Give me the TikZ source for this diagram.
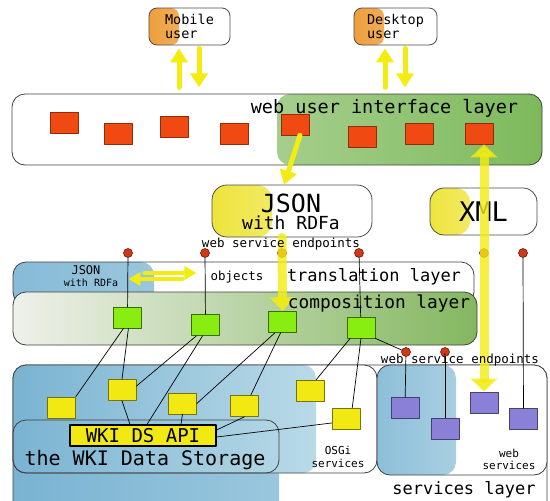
\documentclass[tikz,border=0pt]{standalone}
\usepackage{fontspec}
\newfontfamily\hand{DejaVu Sans Mono}
\usetikzlibrary{arrows.meta,calc}
\definecolor{sqred}{HTML}{F04A12}
\definecolor{sqgreen}{HTML}{88EE12}
\definecolor{sqyellow}{HTML}{F2E812}
\definecolor{sqpurple}{HTML}{8A80D8}
\definecolor{dotred}{HTML}{D03818}
\definecolor{arrowyellow}{HTML}{F2EC12}
\definecolor{usrorange}{HTML}{EE9E3C}
\definecolor{usrorangel}{HTML}{F7C886}
\definecolor{jsonyellow}{HTML}{EEE43C}
\definecolor{jsonyellowl}{HTML}{F8F2A6}
\definecolor{uigreenl}{HTML}{CDE4BD}
\definecolor{uigreen}{HTML}{7DB95B}
\definecolor{compgrey}{HTML}{EFF0EB}
\definecolor{compgreen}{HTML}{84B760}
\definecolor{blued}{HTML}{79B3D2}
\definecolor{bluel}{HTML}{C6E2EC}
\tikzset{
  fs/.style 2 args={font=\hand\fontsize{#1}{#2}\selectfont},
  sq/.style={line width=0.6pt, minimum width=28pt, minimum height=21pt, inner sep=0pt},
  redsq/.style={sq, draw=sqred!60!black, fill=sqred},
  greensq/.style={sq, draw=sqgreen!45!black, fill=sqgreen},
  yellowsq/.style={sq, draw=sqyellow!50!black, fill=sqyellow},
  purplesq/.style={sq, draw=sqpurple!50!black, fill=sqpurple},
  endpoint/.style={circle, draw=dotred!50!black, fill=dotred, line width=0.6pt, minimum size=9pt, inner sep=0pt},
  layer/.style={draw=black!75, line width=0.8pt, rounded corners=13pt, inner sep=0pt},
  userbox/.style={draw=black!70, fill=white, line width=0.8pt, rounded corners=8pt, inner sep=0pt},
  fillto/.style n args={3}{path picture={\shade[left color=#2, right color=#3] (path picture bounding box.south west) rectangle ([xshift=#1]path picture bounding box.north west);}},
  fillfrom/.style n args={3}{path picture={\shade[left color=#2, right color=#3] ([xshift=#1]path picture bounding box.south west) rectangle (path picture bounding box.north east);}},
  conn/.style={draw=black, line width=0.7pt},
  yarrow/.style={draw=arrowyellow, line width=5pt, -{Triangle[width=17pt,length=14pt]}},
  yarrowsm/.style={draw=arrowyellow, line width=4pt, -{Triangle[width=13pt,length=12pt]}},
  ylink/.style={draw=arrowyellow, opacity=0.8, line width=9pt, -{Triangle[width=25pt,length=14pt]}},
}
\begin{document}
\begin{tikzpicture}[x=1pt, y=-1pt, line join=round, line cap=round]
\useasboundingbox (0,0) rectangle (550,501);
\clip (0,0) rectangle (550,501);

% layers
\node[layer, minimum width=534pt, minimum height=155pt, fillto={266pt}{blued}{bluel!85!blued}] (svc) at (280,442.5) {};
\node[layer, fill=white, minimum width=364pt, minimum height=108pt, fillto={303pt}{blued}{bluel}] (osgi) at (195,419) {};
\node[layer, fill=white, minimum width=170pt, minimum height=110pt, fillto={79pt}{blued!85!white}{bluel}] (websvc) at (462,420) {};
\node[layer, minimum width=266pt, minimum height=53pt] (store) at (146,446.5) {};
\node[layer, fill=white, minimum width=530pt, minimum height=71pt, fillfrom={265pt}{uigreenl}{uigreen}] (ui) at (277,129.5) {};
\node[layer, fill=white, minimum width=461pt, minimum height=43pt, fillto={141pt}{blued!90!white}{bluel}] (trans) at (243.5,283.5) {};
\node[layer, minimum width=464pt, minimum height=53pt, left color=compgrey, right color=compgreen] (comp) at (245,318.5) {};

% users and formats
\node[userbox, minimum width=81pt, minimum height=37pt, fillto={30pt}{usrorange}{usrorangel}, align=left, fs={13.5}{14}] (mobile) at (189.5,26.5) {Mobile\\user};
\node[userbox, minimum width=83pt, minimum height=37pt, fillto={30pt}{usrorange}{usrorangel}, align=left, fs={13.5}{14}] (desktop) at (395.5,26.5) {Desktop\\user};
\node[userbox, rounded corners=15pt, minimum width=160pt, minimum height=52pt, fillto={60pt}{jsonyellow}{jsonyellowl}] (json) at (292,211) {};
\node[userbox, rounded corners=14pt, minimum width=107pt, minimum height=47pt, fillto={40pt}{jsonyellow}{jsonyellowl}, fs={27}{27}] (xml) at (483.5,211.5) {XML};
\node[draw, line width=1.2pt, fill=sqyellow, minimum width=146pt, minimum height=21pt, inner sep=0pt, fs={19}{19}] (api) at (143,435.5) {WKI DS API};

% components
\foreach \n/\x/\y in {1/64.5/122.5, 2/118/133.5, 3/174.5/126.5, 4/234.5/133.5, 5/295/124.5, 6/362/136.5, 7/419/133.5, 8/479/133.5}
  \node[redsq] (r\n) at (\x,\y) {};
\foreach \n/\x/\y in {1/127.5/317.5, 2/205.5/325, 3/282.5/322, 4/361/327.5}
  \node[greensq] (g\n) at (\x,\y) {};
\foreach \n/\x/\y in {1/61.5/407.5, 2/122/390, 3/182.5/403.5, 4/244.5/406, 5/310/390.5, 6/346/418.5}
  \node[yellowsq] (y\n) at (\x,\y) {};
\foreach \n/\x/\y in {1/405/408, 2/445/428.5, 3/484/402.5, 4/523.5/419}
  \node[purplesq] (p\n) at (\x,\y) {};
\foreach \n/\x in {1/128, 2/205, 3/282, 4/359, 5/484, 6/523}
  \node[endpoint] (e\n) at (\x,253) {};
\foreach \n/\x in {1/406, 2/445}
  \node[endpoint] (f\n) at (\x,352) {};

% wiring
\draw[conn] (e1) -- (g1);
\draw[conn] (e2) -- (g2);
\draw[conn] (e4) -- (g4);
\draw[conn] (e6) -- (p4);
\draw[conn] (f1) -- (p1);
\draw[conn] (f2) -- (p2);
\draw[conn] (g1.250) -- (y1.north east);
\draw[conn] (g1.275) -- (y2.north);
\draw[conn] (g2.230) -- (y2.15);
\draw[conn] (g2.255) -- ($(api.north)+(4,0)$);
\draw[conn] (g3.235) -- (y3.east);
\draw[conn] (g3.260) -- (y4.60);
\draw[conn] (g4.225) -- (y5.60);
\draw[conn] (g4.south) -- (y6.60);
\draw[conn] (g4.south east) -- (f1);
\draw[conn] (y2.south) -- ($(api.north)+(-13,0)$);
\draw[conn] (y3.south) -- ($(api.north)+(38,0)$);
\draw[conn] (y4.south) -- ($(api.east)+(0,-5.5)$);
\draw[conn] ($(y6.west)+(0,4.5)$) -- ($(api.east)+(0,1.5)$);

% data flow
\foreach \u in {mobile,desktop}{
  \draw[yarrow] ($(\u.south)+(-10.5,42)$) -- ($(\u.south)+(-10.5,3)$);
  \draw[yarrow] ($(\u.south)+(9.5,3)$) -- ($(\u.south)+(9.5,42)$);
}
\draw[yarrow] ($(r5.south)+(5,0)$) -- ($(json.north)+(-8,0)$);
\draw[ylink] ($(json.south)+(-10,0)$) -- (g3.north);
\draw[ylink, {Triangle[width=26pt,length=13pt]}-{Triangle[width=26pt,length=13pt]}] ($(r8.south)+(5,0)$) -- (p3.north);

% labels
\node[fs={18.5}{20}, inner sep=0pt] (tui) at (384.5,108) {web user interface layer};
\node[fs={25}{25}, inner sep=0pt, anchor=base] (tjson) at (291,212) {JSON};
\node[fs={18}{18}, inner sep=0pt, anchor=base] (trdfa) at (291,229) {with RDFa};
\node[fs={12.5}{13}, inner sep=0pt] (tend1) at (281,244) {web service endpoints};
\node[fs={12}{12}, inner sep=0pt] (tjs) at (86,270) {JSON};
\node[fs={10}{10}, inner sep=0pt] (trdfs) at (91,283) {with RDFa};
\node[fs={12.5}{13}, inner sep=0pt] (tobj) at (237,277) {objects};
\node[fs={17}{17}, inner sep=0pt] (ttrans) at (374,277) {translation layer};
\node[fs={17.8}{18}, inner sep=0pt] (tcomp) at (379,304) {composition layer};
\node[fs={20}{20}, inner sep=0pt] (tstore) at (145,460) {the WKI Data Storage};
\node[fs={11}{13}, inner sep=0pt, align=center] (tosgi) at (338,457) {OSGi\\services};
\node[fs={11}{12}, inner sep=0pt, align=center] (tweb) at (509,459) {web\\services};
\node[fs={12.5}{13}, inner sep=0pt] (tend2) at (460,360) {web service endpoints};
\node[fs={17}{17}, inner sep=0pt] (tsvc) at (464,490) {services layer};
\draw[yarrowsm] ($(tobj.west)+(-66,-4)$) -- ($(tobj.west)+(-14,-4)$);
\draw[yarrowsm] ($(tobj.west)+(-28,2)$) -- ($(tobj.west)+(-82,2)$);
\end{tikzpicture}
\end{document}
